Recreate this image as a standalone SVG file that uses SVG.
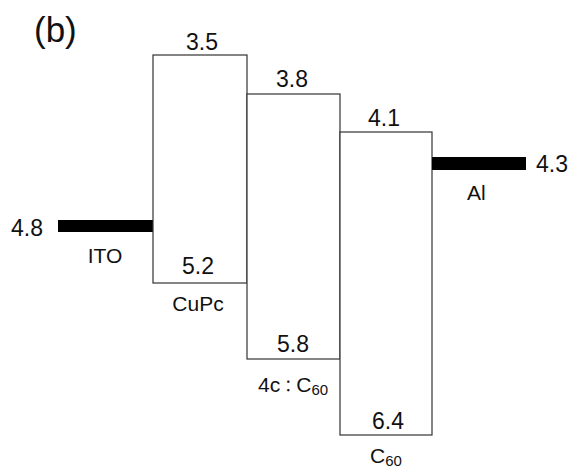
<svg xmlns="http://www.w3.org/2000/svg" width="570" height="473" viewBox="0 0 570 473">
<style>
  .box { fill: #ffffff; stroke: #333333; stroke-width: 1.2; }
  .bar { fill: #000000; }
  text { font-family: "Liberation Sans", Arial, sans-serif; font-size: 21px; fill: #111111; }
  .num { font-size: 23px; }
  .mid { text-anchor: middle; }
  .title { font-size: 35px; }
  .sub { font-size: 15px; }
  .colon { font-family: "Noto Sans CJK JP", "Noto Sans CJK SC", sans-serif; font-size: 16px; }
</style>
<rect width="570" height="473" fill="#ffffff"/>
<g id="title"><text class="title" x="34" y="42">(b)</text></g>
<g id="connectors"></g>
<g id="ITO">
  <rect class="bar" x="58" y="220" width="95" height="12"/>
  <text class="num" x="11" y="236">4.8</text>
  <text class="mid" x="105" y="263">ITO</text>
</g>
<g id="CuPc">
  <rect class="box" x="153" y="55" width="94" height="228"/>
  <text class="num mid" x="202" y="50">3.5</text>
  <text class="num mid" x="198" y="274">5.2</text>
  <text class="mid" x="198" y="311">CuPc</text>
</g>
<g id="mix">
  <rect class="box" x="247" y="94" width="93" height="265"/>
  <text class="num mid" x="292" y="87">3.8</text>
  <text class="num mid" x="293" y="352">5.8</text>
  <text x="258" y="392">4c<tspan class="colon">：</tspan>C<tspan class="sub" dy="3">60</tspan></text>
</g>
<g id="C60">
  <rect class="box" x="340" y="132" width="92" height="303"/>
  <text class="num mid" x="384" y="126">4.1</text>
  <text class="num mid" x="388" y="429">6.4</text>
  <text x="370" y="463">C<tspan class="sub" dy="3">60</tspan></text>
</g>
<g id="Al">
  <rect class="bar" x="432" y="157" width="94" height="13"/>
  <text class="num" x="536" y="172">4.3</text>
  <text x="467" y="200">Al</text>
</g>
</svg>
